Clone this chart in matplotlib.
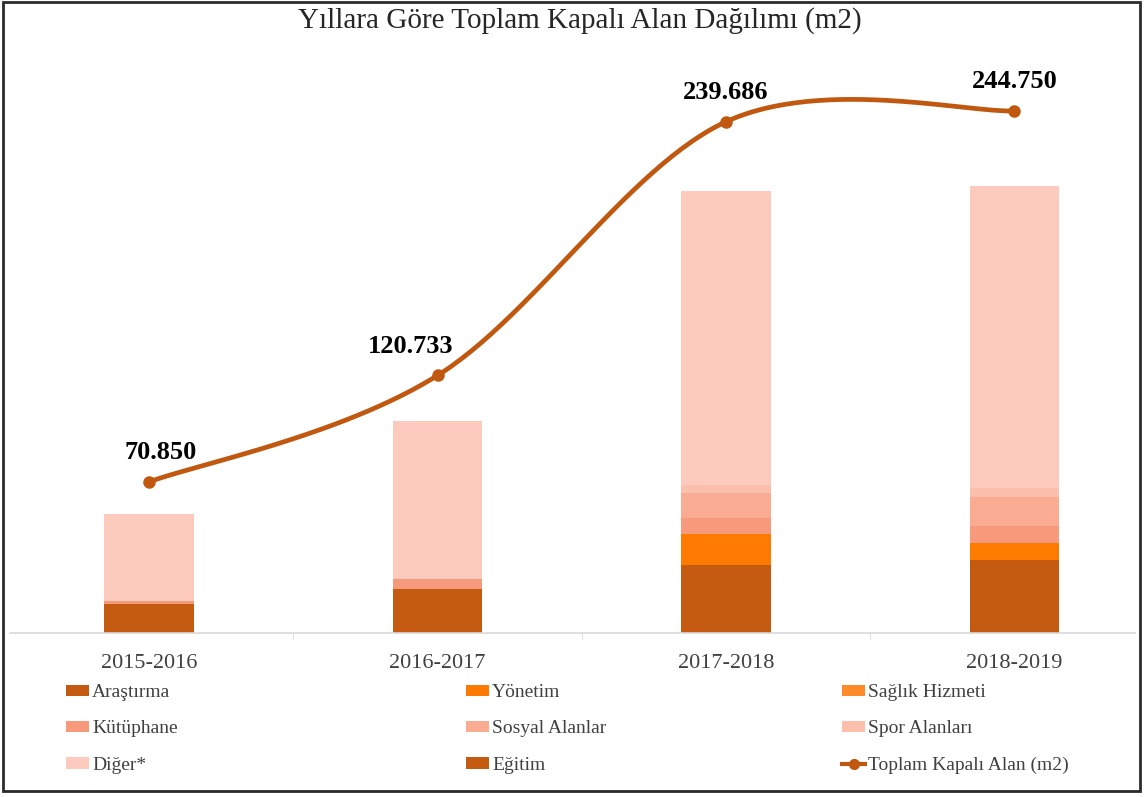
import numpy as np
import matplotlib.pyplot as plt
from matplotlib.lines import Line2D
from matplotlib.patches import Patch, Rectangle

# data (m2)
years = ['2015-2016', '2016-2017', '2017-2018', '2018-2019']
toplam = [70850, 120733, 239686, 244750]
toplam_labels = ['70.850', '120.733', '239.686', '244.750']

arastirma = [13600, 20600, 31900, 34200]
yonetim = [0, 0, 14500, 8000]
saglik = [0, 0, 0, 0]
kutuphane = [1400, 4700, 7500, 8000]
sosyal = [0, 0, 11700, 13600]
spor = [0, 0, 3800, 4200]
diger = [40800, 74100, 137900, 141600]
egitim = [0, 0, 0, 0]

series = [
    ('Araştırma', arastirma, '#C55A11'),
    ('Yönetim', yonetim, '#FF7A00'),
    ('Sağlık Hizmeti', saglik, '#FF8A2A'),
    ('Kütüphane', kutuphane, '#F79A7C'),
    ('Sosyal Alanlar', sosyal, '#F9AC92'),
    ('Spor Alanları', spor, '#FBBFAC'),
    ('Diğer*', diger, '#FCCBBE'),
    ('Eğitim', egitim, '#C55A11'),
]
line_color = '#C0580F'
text_color = '#404040'

plt.rcParams['font.family'] = ['Liberation Serif', 'DejaVu Serif']

W, H = 1145, 797
fig = plt.figure(figsize=(W / 100, H / 100), dpi=100)
ax = fig.add_axes([10 / W, (H - 633) / H, 1125 / W, 593 / H])

x = np.arange(len(years))
bottom = np.zeros(len(years))
for name, vals, col in series:
    ax.bar(x, vals, width=0.31, bottom=bottom, color=col, linewidth=0)
    bottom += np.array(vals)

ax.set_xlim(-0.482, 3.418)
ax.set_ylim(0, 278000)

# smoothed line (Excel-like Catmull-Rom in display space)
fig.canvas.draw()
pts = ax.transData.transform(np.column_stack([x, toplam]))
ext = np.vstack([pts[0], pts, pts[-1]])
curve = []
for i in range(len(pts) - 1):
    p0, p1, p2, p3 = ext[i], ext[i + 1], ext[i + 2], ext[i + 3]
    c1 = p1 + (p2 - p0) / 6
    c2 = p2 - (p3 - p1) / 6
    t = np.linspace(0, 1, 60)[:, None]
    seg = (1 - t) ** 3 * p1 + 3 * (1 - t) ** 2 * t * c1 + 3 * (1 - t) * t ** 2 * c2 + t ** 3 * p2
    curve.append(seg)
curve = ax.transData.inverted().transform(np.vstack(curve))
ax.plot(curve[:, 0], curve[:, 1], color=line_color, lw=3.4, solid_capstyle='round')
ax.plot(x, toplam, 'o', color=line_color, ms=8)

label_dx = [12, -27, 0, 0]
for xi, v, lab, dx in zip(x, toplam, toplam_labels, label_dx):
    ax.annotate(lab, (xi, v), xytext=(dx / 1.389, 21), textcoords='offset points',
                ha='center', va='center', fontsize=19, fontweight='bold', color='black')

for s in ['top', 'right', 'left']:
    ax.spines[s].set_visible(False)
ax.spines['bottom'].set_color('#D9D9D9')
ax.spines['bottom'].set_linewidth(1.2)
ax.set_yticks([])
ax.set_xticks(x)
ax.set_xticklabels(years, fontsize=16, color=text_color)
ax.tick_params(axis='x', length=0, pad=15)
ax.set_xticks([0.5, 1.5, 2.5], minor=True)
ax.tick_params(axis='x', which='minor', length=5, color='#D9D9D9')

fig.text(580 / W, 1 - 21 / H, 'Yıllara Göre Toplam Kapalı Alan Dağılımı (m2)',
         ha='center', va='center', fontsize=21, color='#262626')

# legend in three separate columns, rows read left to right
handles = [Patch(facecolor=c, edgecolor='none', label=n) for n, v, c in series]
handles.append(Line2D([], [], color=line_color, lw=3, marker='o', ms=7,
                      label='Toplam Kapalı Alan (m2)'))
col_x = [66, 466, 842]
for j in range(3):
    hs = handles[j::3]
    fig.legend(handles=hs, loc='upper left', bbox_to_anchor=(col_x[j] / W, 1 - 684 / H),
               frameon=False, fontsize=14, labelcolor=text_color, handlelength=1.2,
               handleheight=0.5, handletextpad=0.15, labelspacing=1.0,
               borderpad=0, borderaxespad=0)

fig.patches.append(Rectangle((3 / W, 6 / H), 1137 / W, 789 / H, transform=fig.transFigure,
                             fill=False, edgecolor='#2b2b2b', lw=2))

fig.savefig('out.png', dpi=100)
